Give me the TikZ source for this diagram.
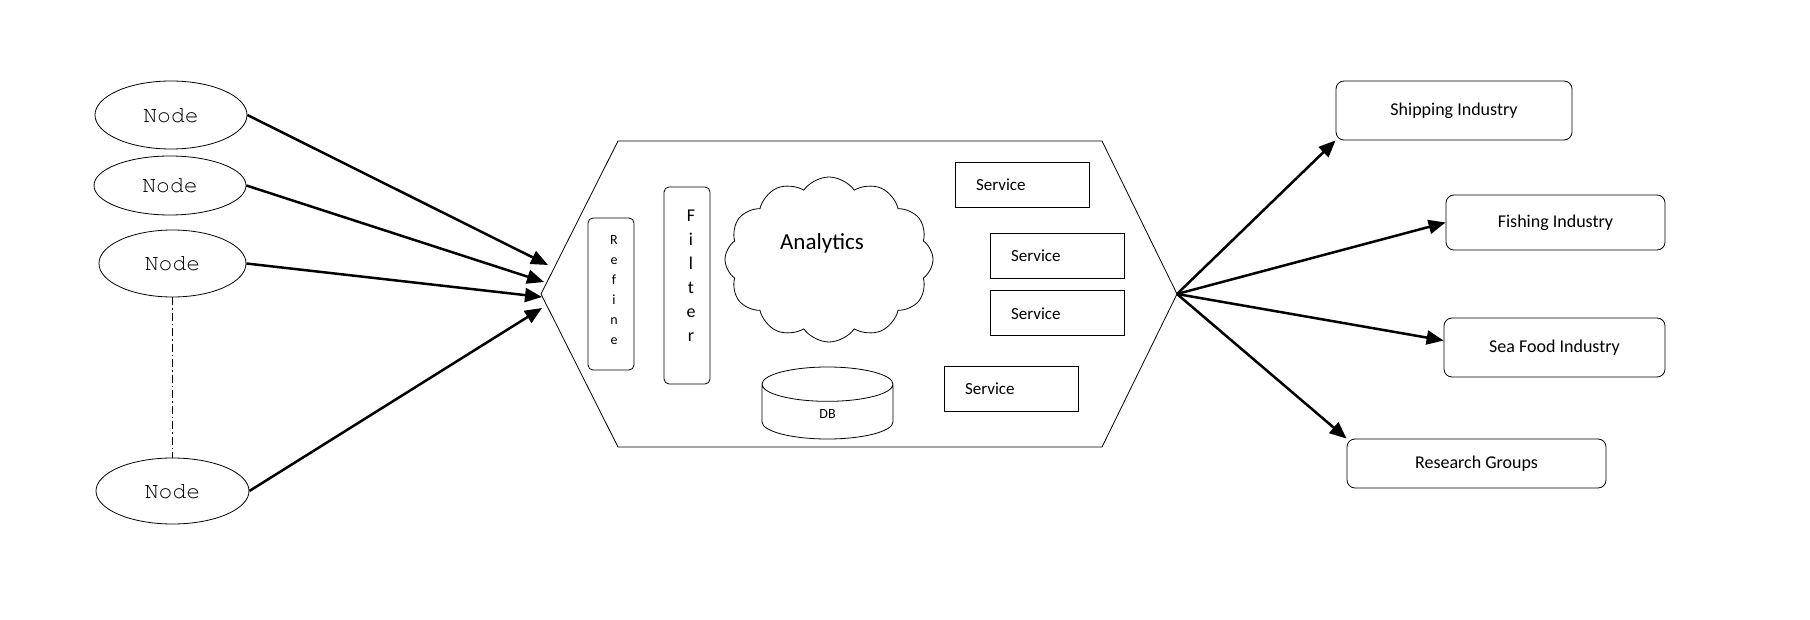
\documentclass[tikz,border=0pt]{standalone}
\usepackage[T1]{fontenc}
\usepackage{fontspec}
\setmainfont{Carlito}
\newcommand\monofam{\fontencoding{T1}\fontfamily{pcr}\selectfont}
\usetikzlibrary{arrows.meta,positioning,shapes.geometric,shapes.symbols}

\begin{document}
\begin{tikzpicture}[x=1pt,y=-1pt,line width=0.8pt,
    >={Triangle[length=17pt,width=14pt]},
    source/.style={draw,ellipse,minimum width=152pt,minimum height=66pt,inner sep=0pt,
        font=\monofam\fontsize{23}{26}\selectfont},
    stage/.style={draw,rounded corners=5pt,minimum width=46pt,inner sep=0pt},
    service/.style={draw,minimum height=45pt,inner xsep=21pt,text width=92pt,align=left,
        font=\fontsize{17}{20}\selectfont},
    client/.style={draw,rounded corners=8pt,inner sep=0pt,font=\fontsize{18}{22}\selectfont},
    feed/.style={->,line width=2.5pt}]

    \useasboundingbox (0,0) rectangle (1810,620);

    % sources
    \node[source,minimum height=68pt] (n1) at (171,115) {Node};
    \node[source,minimum height=59pt] (n2) at (170,185.5) {Node};
    \node[source,minimum width=147pt,minimum height=67pt] (n3) at (172.5,263.5) {Node};
    \node[source,minimum width=153pt] (n4) at (172.5,491) {Node};
    \draw[dash pattern=on 8pt off 3pt on 1.5pt off 3pt,line width=1pt] (n3) -- (n4);

    % platform
    \coordinate (hexl) at (541,294);
    \coordinate (hextl) at (618,141);
    \coordinate (hextr) at (1102,141);
    \coordinate (hexr) at (1177,294);
    \coordinate (hexbr) at (1102,447);
    \coordinate (hexbl) at (618,447);
    \draw (hexl) -- (hextl) -- (hextr) -- (hexr) -- (hexbr) -- (hexbl) -- cycle;

    \node[stage,minimum height=152pt,
        label={[align=center,yshift=4pt,xshift=3pt,font=\fontsize{14}{20}\selectfont]center:R\\e\\f\\i\\n\\e}]
        (refine) at (611,294) {};
    \node[stage,minimum height=197pt,
        label={[align=center,yshift=10pt,xshift=4pt,font=\fontsize{18}{24}\selectfont]center:F\\i\\l\\t\\e\\r}]
        (filter) at (687,285.5) {};

    \node[cloud,draw,cloud puffs=12,cloud puff arc=110,aspect=1.25,
        minimum width=208pt,minimum height=165pt,inner sep=0pt] (cloud) at (829,259.5) {};
    \node[font=\fontsize{23}{26}\selectfont] (analytics) at ([xshift=-7pt,yshift=16pt]cloud.center) {Analytics};

    \node[cylinder,draw,shape border rotate=90,aspect=1.5,minimum width=131pt,minimum height=72pt,
        anchor=shape center,font=\fontsize{14}{16}\selectfont] (db) at (827.5,403) {DB};

    \node[service] (s1) at (1022,185) {Service};
    \node[service] (s2) at (1057,255.5) {Service};
    \node[service,below=12pt of s2] (s3) {Service};
    \node[service] (s4) at (1011,388.5) {Service};

    % consumers
    \node[client,minimum width=236pt,minimum height=59pt] (ship) at (1454,110.5) {Shipping Industry};
    \node[client,minimum width=219pt,minimum height=55pt] (fish) at (1555.5,222.5) {Fishing Industry};
    \node[client,minimum width=221pt,minimum height=59pt] (sea) at (1554.5,347.5) {Sea Food Industry};
    \node[client,minimum width=259pt,minimum height=49pt] (research) at (1476.5,463.5) {Research Groups};

    % incoming
    \coordinate (in1) at (548,265);
    \coordinate (in2) at (544,282);
    \coordinate (in3) at (542,297);
    \coordinate (in4) at (542,308);
    \draw[feed] (n1.east) -- (in1);
    \draw[feed] (n2.east) -- (in2);
    \draw[feed] (n3.east) -- (in3);
    \draw[feed] (n4.east) -- (in4);

    % outgoing
    \draw[feed] (hexr) -- (ship.south west);
    \draw[feed] (hexr) -- (fish.west);
    \draw[feed] (hexr) -- ([yshift=7pt]sea.west);
    \draw[feed] (hexr) -- (research.north west);
\end{tikzpicture}
\end{document}
